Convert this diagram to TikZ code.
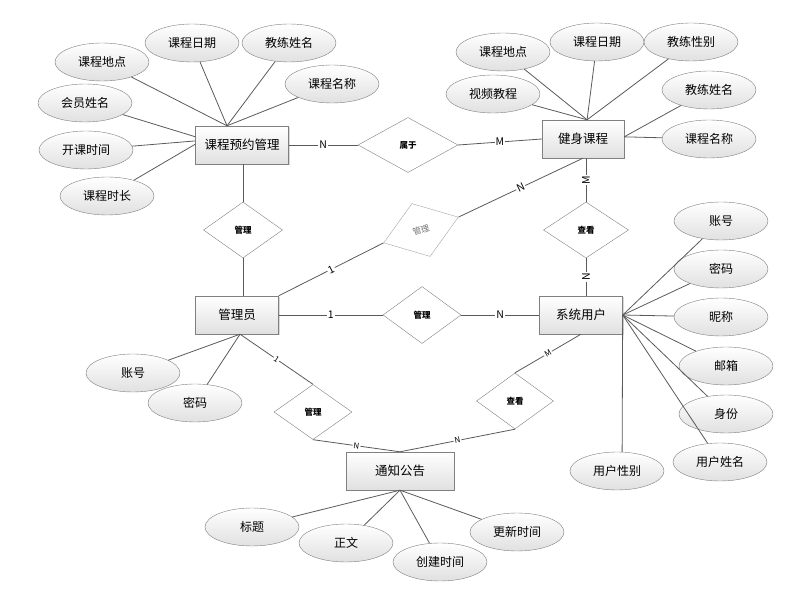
\documentclass[tikz,border=0pt]{standalone}
\usepackage{fontspec}
\usetikzlibrary{shapes.geometric,shadows}
\newfontfamily\cjk{Noto Sans CJK SC}
\definecolor{edge}{HTML}{5A5A5A}
\definecolor{rim}{HTML}{808080}

\begin{document}
\begin{tikzpicture}[x=1pt,y=-1pt,
    entity/.style={draw=rim, top color=white, bottom color=black!12, minimum width=83pt, minimum height=38pt, inner sep=0pt,
        font=\cjk\fontsize{12.5}{14}\selectfont, drop shadow={shadow xshift=1.2pt, shadow yshift=-1.2pt, opacity=.3}},
    attr/.style={ellipse, draw=rim, top color=white, bottom color=black!12, minimum width=94pt, minimum height=38pt, inner sep=0pt,
        font=\cjk\fontsize{12}{14}\selectfont},
    rel/.style={diamond, draw=rim, fill=white, minimum width=79pt, minimum height=56pt, inner sep=0pt,
        font=\cjk\bfseries\fontsize{8.5}{10}\selectfont},
    link/.style={draw=edge, line width=.8pt},
    card/.style={fill=white, inner sep=1pt, font=\cjk\fontsize{10.5}{12}\selectfont},
    tinycard/.style={card, font=\cjk\fontsize{8}{9}\selectfont}]
    \useasboundingbox (0,0) rectangle (809,609);

    \node[entity, minimum width=93pt] (kcgl) at (242,145) {课程预约管理};
    \node[entity, minimum width=82pt] (jskc) at (583,139) {健身课程};
    \node[entity] (gly) at (237,315) {管理员};
    \node[entity] (xtyh) at (581,315) {系统用户};
    \node[entity, minimum width=108pt] (tzgg) at (400,471) {通知公告};

    \node[rel, minimum width=100pt, minimum height=55pt] (shuyu) at (408,145) {属于};
    \node[rel] (guanli1) at (243,230) {管理};
    \node[rel, draw=black!35, text=black!55, font=\cjk\fontsize{8.5}{10}\selectfont, rotate=19] (guanli2) at (421,230) {管理};
    \node[rel, minimum width=85pt] (chakan1) at (586,230) {查看};
    \node[rel, minimum width=78pt, minimum height=57pt] (guanli3) at (422,315) {管理};
    \node[rel, minimum width=78pt, minimum height=55pt] (guanli4) at (313,412) {管理};
    \node[rel, minimum width=77pt] (chakan2) at (515,401) {查看};

    \node[attr] (ka1) at (102,62) {课程地点};
    \node[attr] (ka2) at (192,43) {课程日期};
    \node[attr] (ka3) at (289,43) {教练姓名};
    \node[attr] (ka4) at (332,84) {课程名称};
    \node[attr] (ka5) at (85,103) {会员姓名};
    \node[attr] (ka6) at (86,150) {开课时间};
    \node[attr] (ka7) at (107,196) {课程时长};

    \node[attr] (ja1) at (503,52) {课程地点};
    \node[attr] (ja2) at (597,42) {课程日期};
    \node[attr] (ja3) at (691,42) {教练性别};
    \node[attr] (ja4) at (493,94) {视频教程};
    \node[attr] (ja5) at (709,90) {教练姓名};
    \node[attr] (ja6) at (709,139) {课程名称};

    \node[attr] (xa1) at (721,221) {账号};
    \node[attr] (xa2) at (721,269) {密码};
    \node[attr] (xa3) at (721,317) {昵称};
    \node[attr] (xa4) at (726,366) {邮箱};
    \node[attr] (xa5) at (726,414) {身份};
    \node[attr] (xa6) at (720,462) {用户姓名};
    \node[attr] (xa7) at (617,471) {用户性别};

    \node[attr] (ga1) at (133,373) {账号};
    \node[attr] (ga2) at (195,403) {密码};

    \node[attr] (ta1) at (252,527) {标题};
    \node[attr] (ta2) at (346,543) {正文};
    \node[attr] (ta3) at (440,562) {创建时间};
    \node[attr] (ta4) at (517,532) {更新时间};

    \draw[link] (ka1) -- (kcgl.128);
    \draw[link] (ka2) -- (kcgl.128);
    \draw[link] (ka3) -- (kcgl.128);
    \draw[link] (ka4) -- (kcgl.128);
    \draw[link] (ka5) -- (kcgl.170);
    \draw[link] (ka6) -- (kcgl.175);
    \draw[link] (ka7) -- (kcgl.179);

    \draw[link] (ja1) -- (jskc.78);
    \draw[link] (ja2) -- (jskc.78);
    \draw[link] (ja3) -- (jskc.78);
    \draw[link] (ja4) -- (jskc.78);
    \draw[link] (ja5) -- (jskc.3);
    \draw[link] (ja6) -- (jskc.3);

    \draw[link] (xa1) -- (xtyh.east);
    \draw[link] (xa2) -- (xtyh.east);
    \draw[link] (xa3) -- (xtyh.east);
    \draw[link] (xa4) -- (xtyh.east);
    \draw[link] (xa5) -- (xtyh.east);
    \draw[link] (xa6) -- (xtyh.east);
    \draw[link] (xa7.75) -- (xtyh.east);

    \draw[link] (ga1) -- (gly.-81);
    \draw[link] (ga2) -- (gly.-81);

    \draw[link] (ta1) -- (tzgg.south);
    \draw[link] (ta2) -- (tzgg.south);
    \draw[link] (ta3) -- (tzgg.south);
    \draw[link] (ta4) -- (tzgg.south);

    \draw[link] (kcgl.east) -- node[card] {N} (shuyu.west);
    \draw[link] (shuyu.east) -- node[card] {M} (jskc.west);
    \draw[link] (guanli1.north) -- (guanli1.north |- kcgl.south);
    \draw[link] (guanli1.south) -- (guanli1.south |- gly.north);
    \draw[link] (gly.north east) -- node[card, sloped] {1} (guanli2.west);
    \draw[link] (guanli2.east) -- node[card, sloped] {N} (jskc.south);
    \draw[link] (chakan1.north |- jskc.south) -- node[card, rotate=90] {M} (chakan1.north);
    \draw[link] (chakan1.south) -- node[card, rotate=90] {N} (chakan1.south |- xtyh.north);
    \draw[link] (gly.east) -- node[card] {1} (guanli3.west);
    \draw[link] (guanli3.east) -- node[card] {N} (xtyh.west);
    \draw[link] (gly.-81) -- node[tinycard, sloped] {1} (guanli4.north);
    \draw[link] (guanli4.south) -- node[tinycard, sloped] {N} (tzgg.north);
    \draw[link] (xtyh.south) -- node[tinycard, sloped] {M} (chakan2.north);
    \draw[link] (chakan2.south) -- node[tinycard, sloped] {N} (tzgg.north);
\end{tikzpicture}
\end{document}
